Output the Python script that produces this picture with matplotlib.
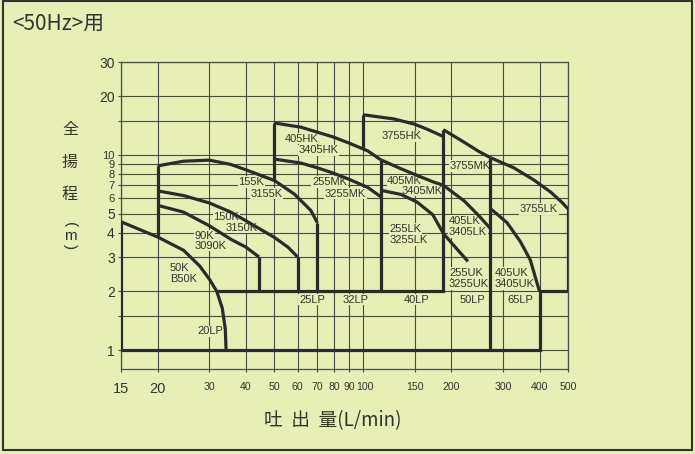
import matplotlib.pyplot as plt
import matplotlib.transforms as mtransforms
from matplotlib.patches import Rectangle
from matplotlib.ticker import NullFormatter, NullLocator

plt.rcParams['font.family'] = ['Liberation Sans', 'DejaVu Sans']
CJK = ['Noto Sans CJK JP', 'DejaVu Sans']

BG = '#e7eeb6'
INK = '#2b2b2b'
GRID = '#4a4a4a'

# axis ticks
x_ticks = [15, 20, 30, 40, 50, 60, 70, 80, 90, 100, 150, 200, 300, 400, 500]
y_ticks = [1, 2, 3, 4, 5, 6, 7, 8, 9, 10, 20, 30]
y_minor = [1.5, 15]

# 20LP : 50K / B50K
q_50k = [15, 20, 24.5, 27.8, 30, 31.8, 33.2, 34.0, 34.2]
h_50k = [4.55, 3.8, 3.25, 2.7, 2.31, 2.0, 1.64, 1.28, 1.0]

# 25LP : 90K, 150K, 155K
q_90k = [20, 24.5, 30, 35.5, 40, 44.3]
h_90k = [5.52, 5.1, 4.34, 3.7, 3.37, 3.0]
q_150k = [20, 24.5, 30, 35.5, 40, 50, 55.6, 60]
h_150k = [6.55, 6.2, 5.68, 5.1, 4.6, 3.78, 3.37, 3.0]
q_155k = [20, 24.5, 30, 35.5, 40, 50, 58.5, 66.5, 70]
h_155k = [8.8, 9.3, 9.42, 8.95, 8.4, 7.4, 6.3, 5.2, 4.5]

# 32LP : 405HK, 255MK
q_32lp = [50, 61.5, 70, 79, 90, 104, 115]
h_405hk = [14.6, 13.9, 13.1, 12.4, 11.5, 10.5, 9.46]
h_255mk = [9.53, 9.1, 8.6, 8.1, 7.5, 6.82, 6.12]

# 40LP : 3755HK, 405MK, 255LK
q_3755hk = [100, 128, 150, 165, 188]
h_3755hk = [16.1, 15.3, 14.4, 13.6, 12.45]
q_40lp = [115, 135, 153, 173, 188]
h_405mk = [9.46, 8.5, 7.87, 7.3, 7.0]
h_255lk = [6.6, 6.28, 5.74, 4.95, 3.97]

# 50LP : 3755MK, 405LK, 255UK
q_50lp = [188, 222, 248, 272]
h_3755mk = [13.5, 11.6, 10.45, 9.7]
h_405lk = [7.0, 5.8, 4.9, 4.2]
q_255uk = [188, 203, 228]
h_255uk = [3.97, 3.47, 2.85]

# 65LP : 3755LK, 405UK
q_3755lk = [272, 327, 382, 437, 478, 500]
h_3755lk = [9.7, 8.6, 7.46, 6.45, 5.7, 5.3]
q_405uk = [274, 310, 344, 372, 390, 400]
h_405uk = [5.27, 4.5, 3.6, 2.9, 2.27, 2.0]

# outer frame of the ranges
base_q = [15, 15, 400, 400, 500, 500]
base_h = [4.55, 1, 1, 2, 2, 5.3]
floor_q = [31.8, 188]
floor_h = [2, 2]
vert_q = [20, 44.3, 60, 70, 50, 100, 115, 188, 272]
vert_lo = [3.8, 2, 2, 2, 7.4, 10.8, 2, 2, 1]
vert_hi = [8.8, 3.0, 3.0, 4.5, 14.6, 16.1, 9.46, 13.5, 9.7]

curves = [(q_50k, h_50k), (q_90k, h_90k), (q_150k, h_150k), (q_155k, h_155k),
          (q_32lp, h_405hk), (q_32lp, h_255mk), (q_3755hk, h_3755hk),
          (q_40lp, h_405mk), (q_40lp, h_255lk), (q_50lp, h_3755mk),
          (q_50lp, h_405lk), (q_255uk, h_255uk), (q_3755lk, h_3755lk),
          (q_405uk, h_405uk)]

# model names (text, left x, centre y)
names = [
    ('50K', 22.0, 2.64), ('B50K', 22.0, 2.32), ('20LP', 27.4, 1.25),
    ('90K', 26.8, 3.85), ('3090K', 26.8, 3.42),
    ('150K', 30.9, 4.82), ('3150K', 34.2, 4.23),
    ('155K', 37.6, 7.28), ('3155K', 41.3, 6.32),
    ('405HK', 54.3, 12.1), ('3405HK', 60.2, 10.6),
    ('255MK', 67.1, 7.28), ('3255MK', 74.3, 6.32),
    ('3755HK', 116, 12.5), ('405MK', 121, 7.36), ('3405MK', 135, 6.55),
    ('255LK', 122.9, 4.18), ('3255LK', 122.9, 3.67),
    ('3755MK', 198, 8.79), ('405LK', 196.6, 4.59), ('3405LK', 196.6, 4.03),
    ('255UK', 196.6, 2.49), ('3255UK', 196.6, 2.18),
    ('405UK', 282, 2.49), ('3405UK', 282, 2.18), ('3755LK', 343, 5.29),
    ('25LP', 60.6, 1.81), ('32LP', 85.6, 1.81), ('40LP', 138, 1.81),
    ('50LP', 214, 1.81), ('65LP', 310, 1.81),
]

fig = plt.figure(figsize=(6.95, 4.54), dpi=100, facecolor=BG)
ax = fig.add_axes([121 / 695, 1 - 369 / 454, 447 / 695, 307 / 454])
ax.set_facecolor(BG)
ax.set_xscale('log')
ax.set_yscale('log')
ax.set_xlim(15, 500)
ax.set_ylim(0.8, 30)

ax.set_xticks(x_ticks)
ax.set_xticklabels([str(v) for v in x_ticks])
ax.xaxis.set_minor_locator(NullLocator())
ax.set_yticks(y_ticks)
ax.set_yticklabels([str(v) for v in y_ticks])
ax.set_yticks(y_minor, minor=True)
ax.yaxis.set_minor_formatter(NullFormatter())
ax.grid(True, which='both', color=GRID, lw=0.8)
ax.set_axisbelow(True)
for s in ax.spines.values():
    s.set_color(GRID)
    s.set_linewidth(0.9)
ax.tick_params(axis='both', which='both', length=2.5, width=0.8, color=GRID,
               labelcolor='#333333')
ax.tick_params(axis='x', pad=7)
ax.tick_params(axis='y', pad=2)
for t in ax.get_xticklabels():
    t.set_fontsize(10.5 if t.get_text() in ('15', '20') else 7.6)
    if t.get_text() == '100':
        # the printed "90100" is pushed a little to the right
        t.set_transform(t.get_transform() +
                        mtransforms.ScaledTranslation(2.5 / 100, 0, fig.dpi_scale_trans))
for t in ax.get_yticklabels():
    t.set_fontsize(8 if t.get_text() in ('6', '7', '8', '9', '10') else 10)

for q, h in curves:
    ax.plot(q, h, color=INK, lw=2.3, solid_capstyle='butt', zorder=3)
ax.plot(base_q, base_h, color=INK, lw=2.3, solid_joinstyle='miter', zorder=3)
ax.plot(floor_q, floor_h, color=INK, lw=2.3, solid_capstyle='projecting', zorder=3)
ax.vlines(vert_q, vert_lo, vert_hi, color=INK, lw=2.3, zorder=3)

for s, q, h in names:
    ax.text(q, h, s, fontsize=8, ha='left', va='center', color='#333333', zorder=2,
            bbox=dict(boxstyle='square,pad=0.05', fc=BG, ec='none'))

fig.text(12 / 695, 1 - 24 / 454, '<50Hz>用', fontsize=15, va='center',
         color='#333333', family=CJK)
for ch, y in zip(['全', '揚', '程'], [129.5, 162.5, 194.5]):
    fig.text(70 / 695, 1 - y / 454, ch, ha='center', va='center', fontsize=11.5,
             color='#333333', family=CJK)
fig.text(70 / 695, 1 - 225 / 454, '(', rotation=-90, ha='center', va='center',
         fontsize=11, color='#333333')
fig.text(70 / 695, 1 - 236 / 454, 'm', ha='center', va='center', fontsize=11,
         color='#333333')
fig.text(70 / 695, 1 - 247 / 454, ')', rotation=-90, ha='center', va='center',
         fontsize=11, color='#333333')
fig.text(333 / 695, 1 - 421 / 454, '吐  出  量(L/min)', ha='center', va='center',
         fontsize=13.5, color='#333333', family=CJK)

fig.patches.append(Rectangle((3 / 695, 1 - 450 / 454), 689 / 695, 449 / 454,
                             transform=fig.transFigure, fill=False,
                             ec='#333333', lw=1.5))

fig.savefig('out.png', dpi=100, facecolor=BG)
